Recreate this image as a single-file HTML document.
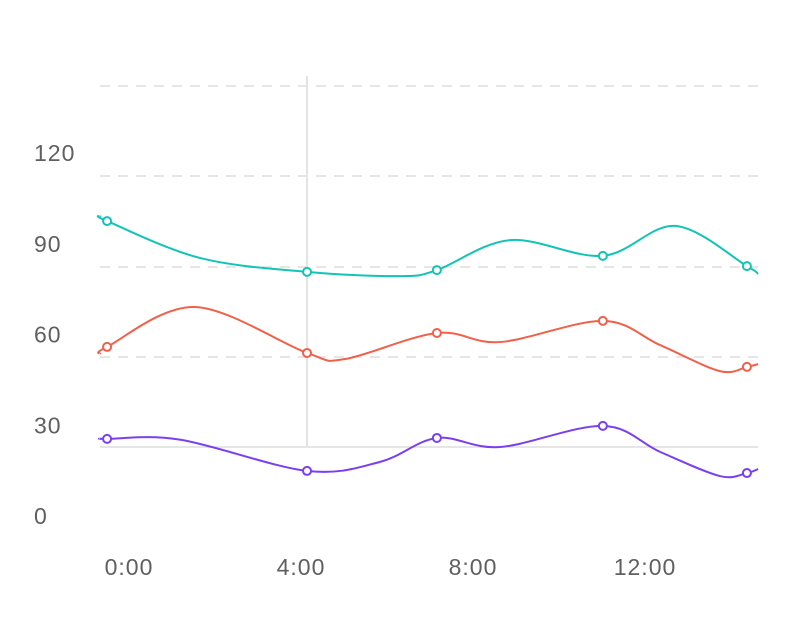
<!DOCTYPE html>
<html><head><meta charset="utf-8"><style>
html,body{margin:0;padding:0;background:#fff;}
svg text{font-family:"Liberation Sans",sans-serif;font-size:23px;letter-spacing:1px;fill:#5f5f5f;}
</style></head><body>
<svg id="chart" width="800" height="615" xmlns="http://www.w3.org/2000/svg"></svg>
<script>
const yTicks = [0, 30, 60, 90, 120];
const xTicks = [0, 4, 8, 12];
const xTickLabels = ["0:00", "4:00", "8:00", "12:00"];
const cyanHours = [-0.67, -0.51, 1.65, 4.14, 6.30, 7.16, 8.86, 11.02, 12.70, 14.37, 14.63];
const cyanValues = [99.2, 97.5, 85.3, 80.7, 79.3, 81.3, 91.2, 86.0, 95.9, 82.6, 80.0];
const cyanMarkers = [1, 3, 5, 7, 9];
const redHours = [-0.67, -0.51, 1.53, 4.14, 5.02, 7.16, 8.63, 11.02, 12.35, 13.74, 14.37, 14.63];
const redValues = [53.6, 55.9, 69.1, 53.9, 51.9, 60.5, 57.5, 64.5, 56.5, 47.9, 49.3, 50.2];
const redMarkers = [1, 3, 5, 7, 10];
const purpleHours = [-0.67, -0.51, 1.2, 4.14, 5.84, 7.16, 8.63, 11.02, 12.35, 13.74, 14.37, 14.63];
const purpleValues = [25.5, 25.5, 25.2, 14.9, 17.9, 25.8, 22.8, 29.8, 21.2, 13.2, 14.2, 15.5];
const purpleMarkers = [1, 3, 5, 7, 10];

const NS = "http://www.w3.org/2000/svg";
const svg = document.getElementById('chart');
const xScale = h => 129 + h * 43;
const yScale = v => 516 - v * 3.025;
function mk(tag, attrs) {
  const e = document.createElementNS(NS, tag);
  for (const k in attrs) e.setAttribute(k, attrs[k]);
  svg.appendChild(e);
  return e;
}
[86, 176, 267, 357].forEach((y, i) => {
  const g = mk('line', {x1: 100, x2: 758, y1: y, y2: y, stroke: '#e6e6e6', 'stroke-width': 2, 'stroke-dasharray': '10,8'});
  
  
});
const base = mk('line', {x1: 100, x2: 758, y1: 447, y2: 447, stroke: '#e6e6e6', 'stroke-width': 2});


const cross = mk('line', {x1: 307, x2: 307, y1: 76, y2: 447, stroke: '#e3e3e3', 'stroke-width': 2});


yTicks.forEach(v => {
  const t = mk('text', {x: 34, y: yScale(v) + 8});
  t.textContent = v;
  
  
});
xTicks.forEach((h, i) => {
  const t = mk('text', {x: xScale(h), y: 575, 'text-anchor': 'middle'});
  t.textContent = xTickLabels[i];
  
  
});
function pathFor(hs, vs) {
  const p = hs.map((h, i) => [xScale(h), yScale(vs[i])]);
  let d = `M${p[0][0]},${p[0][1]}`;
  for (let i = 0; i < p.length - 1; i++) {
    const p0 = p[i - 1] || p[i], p1 = p[i], p2 = p[i + 1], p3 = p[i + 2] || p2;
    const c1 = [p1[0] + (p2[0] - p0[0]) / 6, p1[1] + (p2[1] - p0[1]) / 6];
    const c2 = [p2[0] - (p3[0] - p1[0]) / 6, p2[1] - (p3[1] - p1[1]) / 6];
    d += ` C${c1[0]},${c1[1]} ${c2[0]},${c2[1]} ${p2[0]},${p2[1]}`;
  }
  return d;
}
function series(name, hs, vs, ms, color) {
  const l = mk('path', {d: pathFor(hs, vs), fill: 'none', stroke: color, 'stroke-width': 2});
  
  
  ms.forEach(i => {
    const c = mk('circle', {cx: xScale(hs[i]), cy: yScale(vs[i]), r: 4, fill: '#fff', stroke: color, 'stroke-width': 2});
    
    
  });
}
series('cyan-series', cyanHours, cyanValues, cyanMarkers, '#12c4b6');
series('red-series', redHours, redValues, redMarkers, '#f2604a');
series('purple-series', purpleHours, purpleValues, purpleMarkers, '#7a3ff3');
</script>
</body></html>
